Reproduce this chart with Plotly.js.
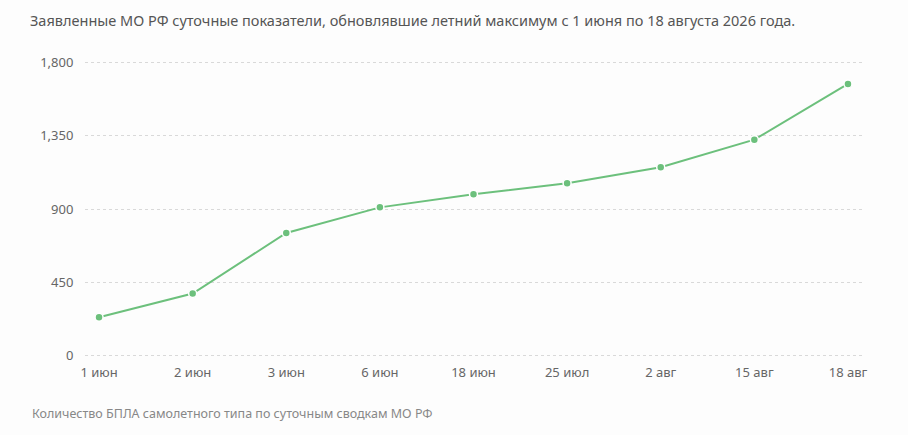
<!DOCTYPE html>
<html>
<head>
<meta charset="utf-8">
<script src="https://cdn.plot.ly/plotly-3.0.1.min.js"></script>
<style>html,body{margin:0;padding:0;background:#fdfdfd;}#chart{width:908px;height:435px;}</style>
</head>
<body>
<div id="chart"></div>
<script>
const categories = ["1 июн","2 июн","3 июн","6 июн","18 июн","25 июл","2 авг","15 авг","18 авг"];
const values = [235, 381, 753, 910, 990, 1058, 1156, 1326, 1668];
const yTicks = [0, 450, 900, 1350, 1800];
const yTickLabels = ["0", "450", "900", "1,350", "1,800"];
const titleText = "Заявленные МО РФ суточные показатели, обновлявшие летний максимум с 1 июня по 18 августа 2026 года.";
const footerText = "Количество БПЛА самолетного типа по суточным сводкам МО РФ";

const font = "'Noto Sans', 'Open Sans', sans-serif";
const trace = {
  x: categories, y: values, type: "scatter", mode: "lines+markers",
  line: {color: "#6cc07c", width: 2},
  marker: {color: "#6cc07c", size: 8, line: {color: "#ffffff", width: 1.5}},
  hoverinfo: "x+y", cliponaxis: false
};
const layout = {
  width: 908, height: 435,
  paper_bgcolor: "#fdfdfd", plot_bgcolor: "#fdfdfd",
  margin: {l: 85, r: 46, t: 60, b: 77},
  showlegend: false,
  font: {family: font, color: "#666", size: 13},
  title: {text: titleText, x: 30 / 908, xref: "container", xanchor: "left",
          y: 1 - 21 / 435, yref: "container", yanchor: "middle",
          font: {family: font, size: 14.5, color: "#555"}},
  xaxis: {type: "category", range: [-0.15, 8.15], showgrid: false, zeroline: false, showline: false,
          ticks: "outside", ticklen: 2, tickcolor: "rgba(0,0,0,0)",
          tickfont: {size: 13, color: "#666"}, fixedrange: true},
  yaxis: {range: [-15, 1815], tickvals: yTicks, ticktext: yTickLabels, showgrid: true,
          gridcolor: "#d9d9d9", griddash: "3px,3px", gridwidth: 1, zeroline: false, showline: false,
          ticks: "outside", ticklen: 8, tickcolor: "rgba(0,0,0,0)",
          tickfont: {size: 13, color: "#666"}, fixedrange: true},
  annotations: [{text: footerText, xref: "paper", yref: "paper",
                 x: (30 - 85) / 777, y: (357.4 - 413) / 297.6,
                 xanchor: "left", yanchor: "middle", showarrow: false,
                 font: {family: font, size: 12.5, color: "#888"}}]
};
Plotly.newPlot("chart", [trace], layout, {displayModeBar: false});
</script>
</body>
</html>
